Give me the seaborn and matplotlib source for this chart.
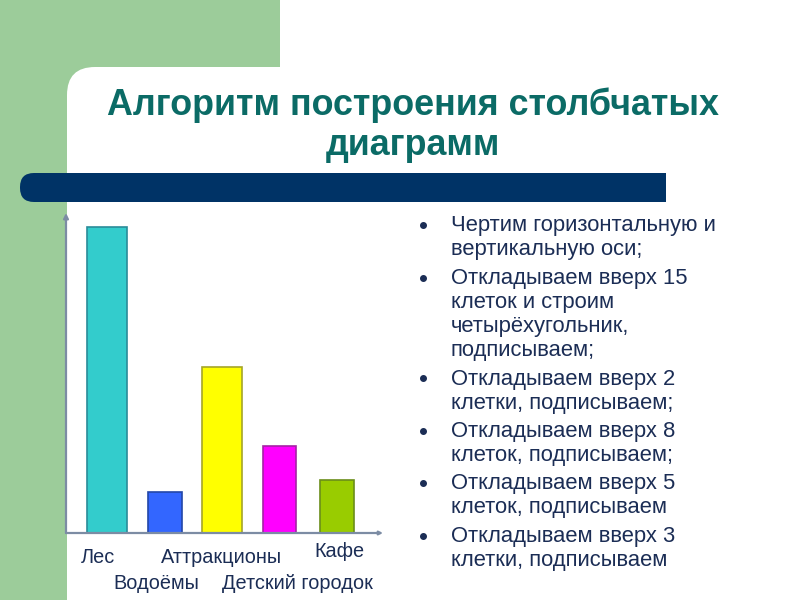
import matplotlib
matplotlib.use('Agg')
import matplotlib.pyplot as plt
import seaborn as sns
from matplotlib.patches import Rectangle, FancyBboxPatch
from matplotlib import transforms

# ---- data ----
categories = ['Лес', 'Водоёмы', 'Аттракционы', 'Детский городок', 'Кафе']
values = [15, 2, 8.15, 4.25, 2.6]
bar_colors = ['#33CCCC', '#3366FF', '#FFFF00', '#FF00FF', '#99CC00']
edge_colors = ['#2A8C99', '#2347A8', '#A6A628', '#A622A6', '#6B8E1A']

title_lines = ['Алгоритм построения столбчатых', 'диаграмм']
bullets = [
    ['Чертим горизонтальную и', 'вертикальную оси;'],
    ['Откладываем вверх 15', 'клеток и строим', 'четырёхугольник,', 'подписываем;'],
    ['Откладываем вверх 2', 'клетки, подписываем;'],
    ['Откладываем вверх 8', 'клеток, подписываем;'],
    ['Откладываем вверх 5', 'клеток, подписываем'],
    ['Откладываем вверх 3', 'клетки, подписываем'],
]

# ---- style ----
sns.set_style('white')
plt.rcParams['font.family'] = ['Liberation Sans', 'DejaVu Sans']

GREEN = '#9CCC9A'
NAVY = '#003366'
TITLE_C = '#0B6B66'
TEXT_C = '#1B2D55'
AXIS_C = '#7C8CA4'

fig = plt.figure(figsize=(8, 6), dpi=100)
bg = fig.add_axes([0, 0, 1, 1])
bg.set_xlim(0, 800)
bg.set_ylim(600, 0)
bg.axis('off')

# background decorations
bg.add_patch(Rectangle((0, 0), 280, 110, fc=GREEN, ec='none', zorder=0))
bg.add_patch(Rectangle((0, 0), 110, 600, fc=GREEN, ec='none', zorder=0))
bg.add_patch(FancyBboxPatch((67, 67), 900, 700,
                            boxstyle='round,pad=0,rounding_size=28',
                            fc='white', ec='none', zorder=1))
bg.add_patch(FancyBboxPatch((20, 173), 80, 29,
                            boxstyle='round,pad=0,rounding_size=14',
                            fc=NAVY, ec='none', zorder=2))
bg.add_patch(Rectangle((45, 173), 621, 29, fc=NAVY, ec='none', zorder=2))

# title
for line, yb in zip(title_lines, [115, 155]):
    bg.text(413, yb, line, ha='center', va='baseline', fontsize=25.8,
            fontweight='bold', color=TITLE_C, zorder=3)

# bullets
line_h = 24
gap = 4.5
yb = 231.5
for b in bullets:
    bg.plot([423], [yb - 6.5], marker='o', ms=4, color=TEXT_C, zorder=3)
    for ln in b:
        bg.text(451, yb, ln, ha='left', va='baseline', fontsize=15.8,
                color=TEXT_C, zorder=3)
        yb += line_h
    yb += gap

# ---- chart ----
px_unit = 20.42
spacing = 57.5
c0 = 107
ax_l, ax_r, ax_b, ax_t = 66, 383, 533, 213
ax = fig.add_axes([ax_l / 800, 1 - ax_b / 600, (ax_r - ax_l) / 800, (ax_b - ax_t) / 600])
ax.set_facecolor('none')
ax.patch.set_alpha(0)

sns.barplot(x=categories, y=values, hue=categories, palette=bar_colors,
            legend=False, ax=ax, width=0.64, linewidth=1.2, saturation=1)

widths_px = [40.6, 34, 40.7, 33.7, 33.7]
for p, w, ec in zip(ax.patches, widths_px, edge_colors):
    cx = p.get_x() + p.get_width() / 2
    wd = w / spacing
    p.set_width(wd)
    p.set_x(cx - wd / 2)
    p.set_edgecolor(ec)
    p.set_linewidth(1.2)

ax.set_xlim((ax_l - c0) / spacing, (ax_r - c0) / spacing)
ax.set_ylim(0, (ax_b - ax_t) / px_unit)
for s in ax.spines.values():
    s.set_visible(False)
ax.set_xticks([])
ax.set_yticks([])
ax.set_xlabel('')
ax.set_ylabel('')

ax.annotate('', xy=(0, 1), xytext=(0, 0), xycoords='axes fraction',
            arrowprops=dict(arrowstyle='-|>', color=AXIS_C, lw=1.6,
                            mutation_scale=7, shrinkA=0, shrinkB=0))
ax.annotate('', xy=(1, 0), xytext=(0, 0), xycoords='axes fraction',
            arrowprops=dict(arrowstyle='-|>', color=AXIS_C, lw=1.6,
                            mutation_scale=5, shrinkA=0, shrinkB=0))

# staggered category labels
label_offsets_px = [-9, -8, 0, 18, 2]
label_baselines = [563, 589, 563, 589, 557]
trans = transforms.blended_transform_factory(ax.transData, bg.transData)
for i, (cat, off, ybl) in enumerate(zip(categories, label_offsets_px, label_baselines)):
    fig.text(i + off / spacing, ybl, cat, transform=trans, ha='center',
             va='baseline', fontsize=14.3, color=TEXT_C)

fig.savefig('out.png', dpi=100)
